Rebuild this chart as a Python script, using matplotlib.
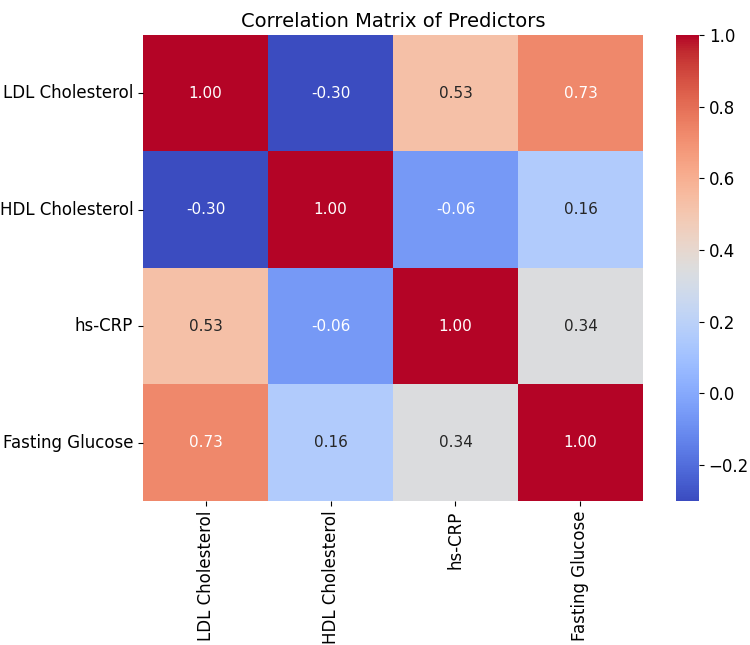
import matplotlib
matplotlib.use("Agg")
import matplotlib.pyplot as plt
import numpy as np
import seaborn as sns

# predictor names and their correlation values
predictors = ["LDL Cholesterol", "HDL Cholesterol", "hs-CRP", "Fasting Glucose"]
row_ldl = [1.00, -0.30, 0.53, 0.73]
row_hdl = [-0.30, 1.00, -0.06, 0.16]
row_crp = [0.53, -0.06, 1.00, 0.34]
row_glu = [0.73, 0.16, 0.34, 1.00]

corr = np.array([row_ldl, row_hdl, row_crp, row_glu])

fig = plt.figure(figsize=(7.5, 6.45), dpi=100)
ax = fig.add_axes([0.1907, 0.2233, 0.6666, 0.7225])
cax = fig.add_axes([0.9013, 0.2233, 0.0307, 0.7225])

sns.heatmap(corr, annot=True, fmt=".2f", cmap="coolwarm",
            xticklabels=predictors, yticklabels=predictors,
            ax=ax, cbar_ax=cax, annot_kws={"size": 11})

ax.set_title("Correlation Matrix of Predictors", fontsize=14)
ax.tick_params(axis="both", labelsize=12)
plt.setp(ax.get_xticklabels(), rotation=90)
plt.setp(ax.get_yticklabels(), rotation=0)
cax.tick_params(labelsize=12)

fig.savefig("out.png", dpi=100)
